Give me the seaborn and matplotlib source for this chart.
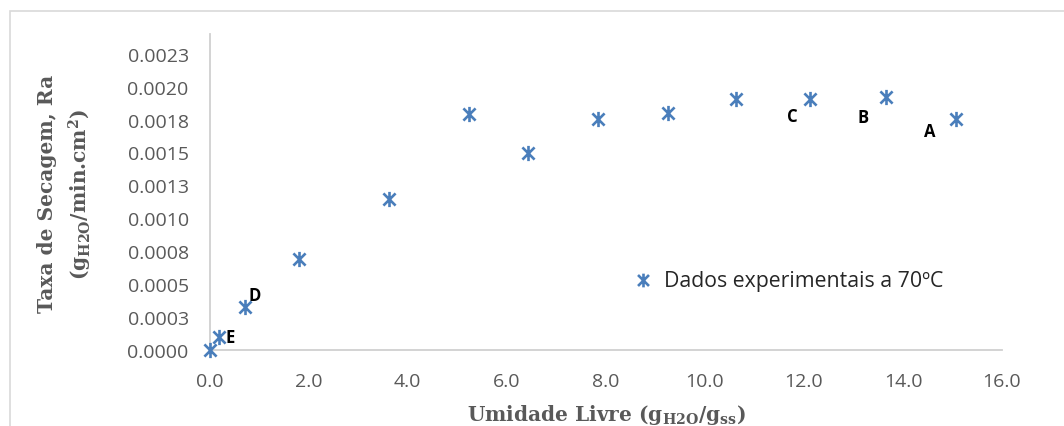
import numpy as np
import matplotlib
matplotlib.use("Agg")
import matplotlib.pyplot as plt
from matplotlib.path import Path
from matplotlib.patches import Rectangle
import seaborn as sns

# Free moisture (g H2O / g dry solid) and drying rate (g H2O / min.cm2)
umidade_livre = [0.0, 0.19, 0.72, 1.81, 3.63, 5.24, 6.43, 7.85, 9.26, 10.62, 12.13, 13.66, 15.08]
taxa_secagem = [0.0, 0.000099, 0.000326, 0.000689, 0.001144, 0.001795, 0.00150,
                0.001758, 0.001803, 0.001909, 0.001909, 0.001924, 0.001758]

# Drying-period letters and where they sit
letras = ["A", "B", "C", "D", "E"]
letras_x = [14.55, 13.19, 11.76, 0.92, 0.41]
letras_y = [0.001667, 0.001773, 0.00178, 0.000417, 0.000099]

x_ticks = [0, 2, 4, 6, 8, 10, 12, 14, 16]
x_tick_labels = ["0.0", "2.0", "4.0", "6.0", "8.0", "10.0", "12.0", "14.0", "16.0"]
y_ticks = [0.0, 0.00025, 0.0005, 0.00075, 0.0010, 0.00125, 0.0015, 0.00175, 0.0020, 0.00225]
y_tick_labels = ["0.0000", "0.0003", "0.0005", "0.0008", "0.0010",
                 "0.0013", "0.0015", "0.0018", "0.0020", "0.0023"]

sns.set_theme(style="white")
plt.rcParams["font.family"] = ["Open Sans", "DejaVu Sans"]
plt.rcParams["mathtext.fontset"] = "custom"
plt.rcParams["mathtext.rm"] = "DejaVu Serif"
plt.rcParams["mathtext.it"] = "DejaVu Serif"

blue = "#4a7ebb"
gray_txt = "#595959"
axis_gray = "#d0d0d0"

# Star marker: X with a vertical bar
star = Path(
    [(-1, -1), (1, 1), (-1, 1), (1, -1), (0, -1.25), (0, 1.25)],
    [Path.MOVETO, Path.LINETO, Path.MOVETO, Path.LINETO, Path.MOVETO, Path.LINETO],
)

fig = plt.figure(figsize=(10.64, 4.27), dpi=100)
ax = fig.add_axes([209.5 / 1064, 1 - 351 / 427, (1002 - 209.5) / 1064, (351 - 35) / 427])

# Chart-area frame
fig.patches.append(Rectangle((10 / 1064, -0.1), 1.2, 1 - 12 / 427 + 0.1,
                             transform=fig.transFigure, fill=False,
                             edgecolor="#d9d9d9", linewidth=1.2, zorder=0))

sns.scatterplot(x=umidade_livre, y=taxa_secagem, ax=ax, marker=star, s=120,
                color=blue, edgecolor=blue, linewidth=1.9,
                label="Dados experimentais a 70ºC", clip_on=False, zorder=3)

for t, lx, ly in zip(letras, letras_x, letras_y):
    ax.text(lx, ly, t, fontsize=12, fontweight="bold", color="black",
            ha="center", va="center", family=["Open Sans", "DejaVu Sans"])

ax.set_xlim(0, 16)
ax.set_ylim(0, 0.0024)
ax.set_xticks(x_ticks)
ax.set_xticklabels(x_tick_labels)
ax.set_yticks(y_ticks)
ax.set_yticklabels(y_tick_labels)
ax.tick_params(axis="x", length=0, pad=16, labelsize=14, labelcolor=gray_txt)
ax.tick_params(axis="y", length=0, pad=15, labelsize=14, labelcolor=gray_txt)

for side in ["top", "right"]:
    ax.spines[side].set_visible(False)
for side in ["left", "bottom"]:
    ax.spines[side].set_color(axis_gray)
    ax.spines[side].set_linewidth(1.3)
ax.set_xlabel("")
ax.set_ylabel("")

# Axis titles
serif = ["DejaVu Serif"]
fig.text(47 / 1064, 1 - 194 / 427, "Taxa de Secagem, Ra", rotation=90, ha="center",
         va="center", fontsize=14.5, fontweight="bold", color=gray_txt, family=serif)
fig.text(80 / 1064, 1 - 194 / 427, r"(g$_\mathregular{H2O}$/min.cm$^\mathregular{2}$)",
         rotation=90, ha="center", va="center", fontsize=14.5, fontweight="bold",
         color=gray_txt, family=serif)
fig.text(606 / 1064, 6 / 427, r"Umidade Livre (g$_\mathregular{H2O}$/g$_\mathregular{ss}$)",
         ha="center", va="baseline", fontsize=14.5, fontweight="bold",
         color=gray_txt, family=serif)

leg = ax.legend(loc="center left", bbox_to_anchor=(0.496, 0.2215), frameon=False,
                fontsize=15.3, handletextpad=0.0, markerscale=0.9)
for txt in leg.get_texts():
    txt.set_color("#262626")

fig.savefig("out.png", dpi=100)
